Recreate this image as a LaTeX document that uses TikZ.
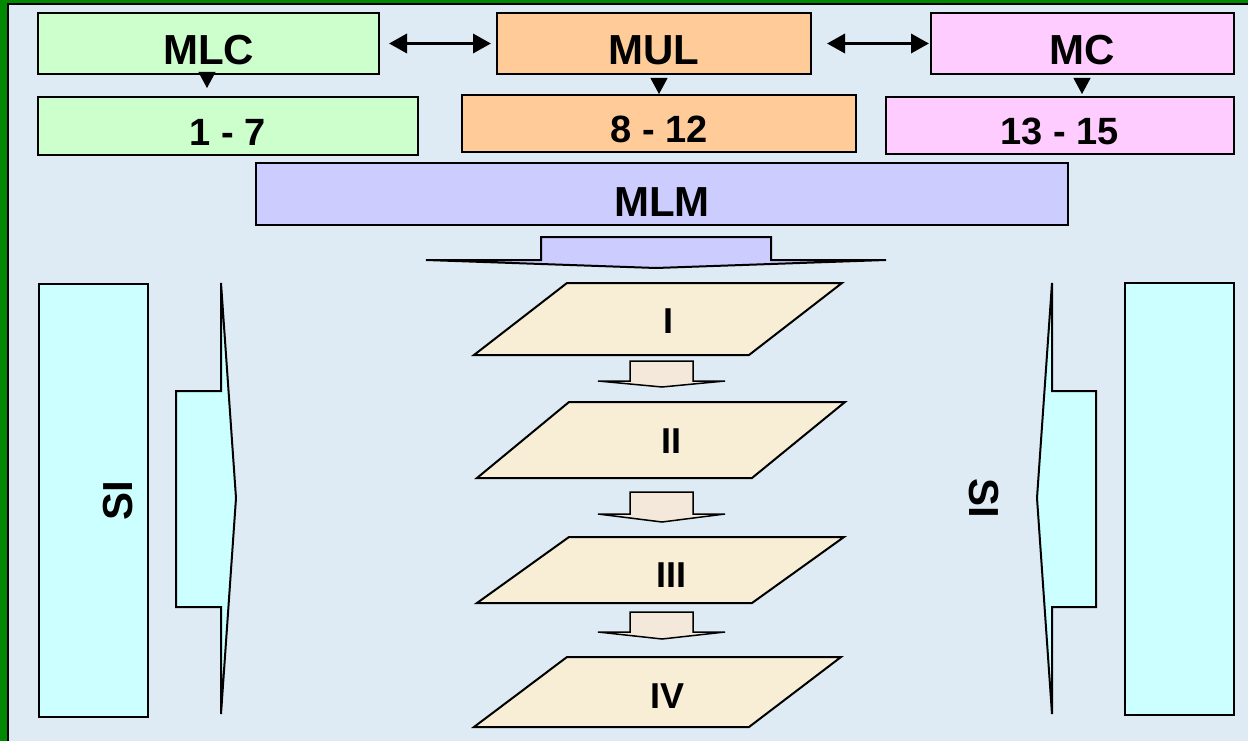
\documentclass[tikz,border=0pt]{standalone}
\usepackage{fontspec}
\setmainfont{Liberation Sans}
\usetikzlibrary{arrows.meta}
\definecolor{bgblue}{RGB}{223,235,244}
\definecolor{framegreen}{RGB}{0,136,0}
\definecolor{mlcgreen}{RGB}{204,255,204}
\definecolor{mulorange}{RGB}{255,204,153}
\definecolor{mcpink}{RGB}{255,204,255}
\definecolor{mlmviolet}{RGB}{204,204,255}
\definecolor{sicyan}{RGB}{204,255,255}
\definecolor{levelcream}{RGB}{248,238,214}
\definecolor{flowbeige}{RGB}{243,232,218}
\begin{document}
\begin{tikzpicture}[x=1pt,y=-1pt,
  box/.style={draw=black, line width=2pt, inner sep=0pt, text depth=0pt},
  headbox/.style={box, font=\fontsize{42}{48}\selectfont\bfseries, text height=43pt},
  rangebox/.style={box, font=\fontsize{38}{44}\selectfont\bfseries, text height=39pt},
  pairarrow/.style={line width=3.5pt, {Triangle[length=18pt,width=19pt]}-{Triangle[length=18pt,width=19pt]}},
  droparrow/.style={line width=1pt, -{Triangle[length=16pt,width=17pt]}},
  blockarrow/.style={draw=black, line width=2pt, line join=miter},
  flowarrow/.style={draw=black, fill=flowbeige, line width=1.5pt},
  level/.style={draw=black, fill=levelcream, line width=2pt},
  levellabel/.style={inner sep=0pt, font=\fontsize{36}{42}\selectfont\bfseries},
  sidelabel/.style={inner sep=0pt, font=\fontsize{42}{48}\selectfont\bfseries}]
\useasboundingbox (0,0) rectangle (1248,741);
\clip (0,0) rectangle (1248,741);
% frame and background
\fill[framegreen] (0,0) rectangle (1248,741);
\draw[fill=bgblue, line width=2pt] (8.2,4.2) rectangle (1270,770);

% top row
\node[headbox, fill=mlcgreen, minimum width=341pt, minimum height=61pt] (MLC) at (208.5,43.5) {MLC};
\node[headbox, fill=mulorange, minimum width=314pt, minimum height=61pt] (MUL) at (654,43.5) {MUL};
\node[headbox, fill=mcpink, minimum width=303pt, minimum height=61pt] (MC) at (1082.5,43.5) {MC};

% ranges
\node[rangebox, fill=mlcgreen, minimum width=380pt, minimum height=58pt] (R1) at (228,126) {1 - 7};
\node[rangebox, fill=mulorange, minimum width=394pt, minimum height=57pt] (R2) at (659,123.5) {8 - 12};
\node[rangebox, fill=mcpink, minimum width=348pt, minimum height=57pt] (R3) at (1060,125.5) {13 - 15};

% MLM bar
\node[box, fill=mlmviolet, font=\fontsize{42}{48}\selectfont\bfseries, text height=44pt,
      minimum width=812pt, minimum height=62pt] (MLM) at (662,194) {MLM};

% links between top boxes
\draw[pairarrow, shorten <=9pt, shorten >=5pt] (MLC.east) -- (MUL.west);
\draw[pairarrow, shorten <=15pt, shorten >=1pt] (MUL.east) -- (MC.west);

% drops to ranges
\coordinate (d1) at (207,74);
\coordinate (d2) at (659,74);
\coordinate (d3) at (1082,74);
\draw[droparrow, shorten <=1pt, shorten >=8pt] (d1) -- (d1 |- R1.north);
\draw[droparrow, shorten <=5pt] (d2) -- (d2 |- R2.north);
\draw[droparrow, shorten <=4pt, shorten >=2pt] (d3) -- (d3 |- R3.north);

% wide arrow under MLM
\draw[blockarrow, fill=mlmviolet] (541,237) -- (771,237) -- (771,260) -- (886,260)
  -- (656,268) -- (426,260) -- (541,260) -- cycle;

% levels
\draw[level] (567,283) -- (842,283) -- (749,355) -- (474,355) -- cycle;
\draw[level] (569,402) -- (845,402) -- (752,478) -- (477,478) -- cycle;
\draw[level] (569,537) -- (844,537) -- (752,603) -- (477,603) -- cycle;
\draw[level] (567,657) -- (841,657) -- (749,727) -- (474,727) -- cycle;
\node[levellabel] (L1) at (668.5,321) {I};
\node[levellabel] (L2) at (671.5,441.5) {II};
\node[levellabel] (L3) at (671,575.5) {III};
\node[levellabel] (L4) at (667.5,696) {IV};

% arrows between levels
\foreach \t/\s/\p in {361/381/387, 492/514/522, 612/632/639}{
  \draw[flowarrow] (630,\t) -- (693,\t) -- (693,\s) -- (725,\s) -- (662,\p)
    -- (598,\s) -- (630,\s) -- cycle;
}

% side panels
\draw[box, fill=sicyan] (39,284) rectangle (148,717);
\draw[box, fill=sicyan] (1125,283) rectangle (1234,715);
\draw[blockarrow, fill=sicyan] (221,283) -- (221,391) -- (176,391) -- (176,607)
  -- (221,607) -- (221,714) -- (236,498) -- cycle;
\draw[blockarrow, fill=sicyan] (1052,283) -- (1052,391) -- (1096,391) -- (1096,607)
  -- (1052,607) -- (1052,714) -- (1037,498) -- cycle;
\node[sidelabel, rotate=90] (SIleft) at (118.5,500.5) {SI};
\node[sidelabel, rotate=-90] (SIright) at (983.5,498.5) {SI};
\end{tikzpicture}
\end{document}
